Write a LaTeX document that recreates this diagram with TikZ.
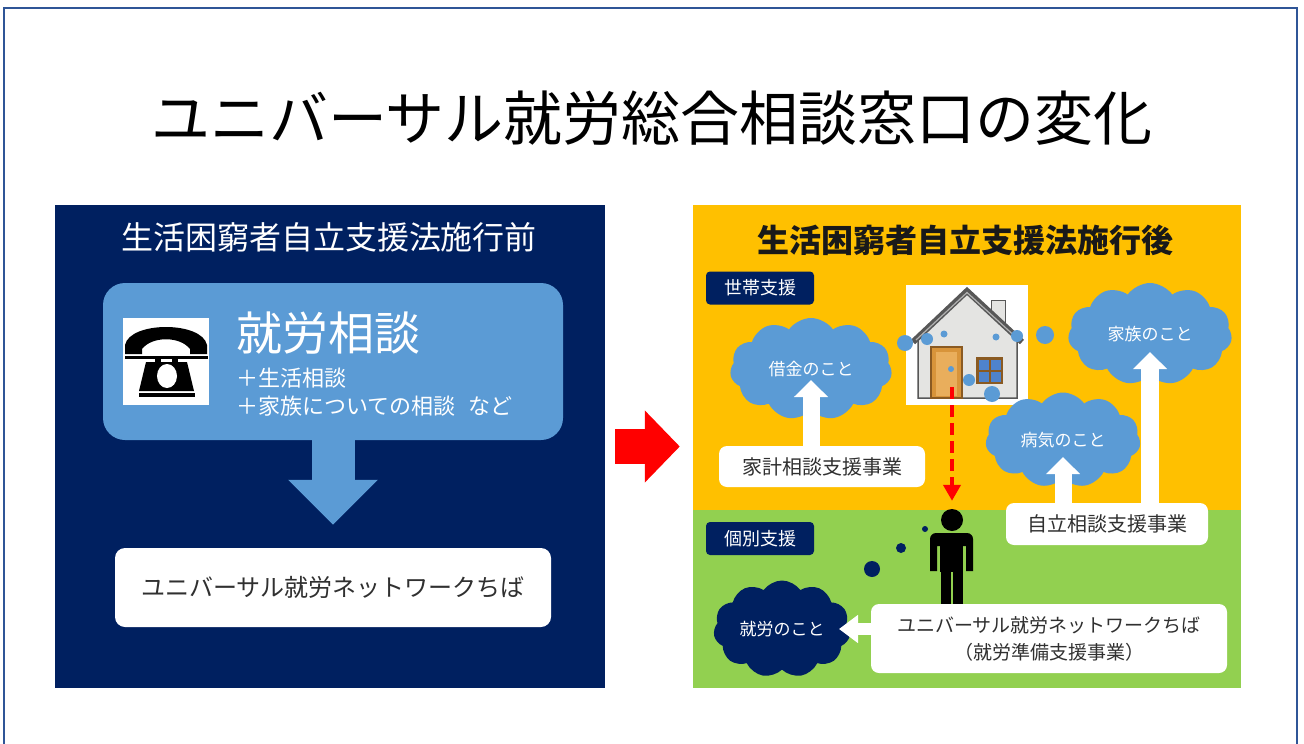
\documentclass[tikz,border=0pt]{standalone}
\usepackage{fontspec}
\setmainfont{Noto Sans CJK JP}
\usetikzlibrary{arrows.meta,shapes.symbols}
\definecolor{navy}{HTML}{002060}
\definecolor{skyblue}{HTML}{5B9BD5}
\definecolor{amber}{HTML}{FFC000}
\definecolor{leaf}{HTML}{92D050}
\definecolor{framec}{HTML}{2F5597}
\definecolor{ink}{HTML}{303030}
\definecolor{wallc}{HTML}{E4E4E2}
\definecolor{roofc}{HTML}{575757}
\definecolor{doorc}{HTML}{D8943A}
\definecolor{doorlight}{HTML}{E9AE5C}
\definecolor{doorline}{HTML}{8A5A22}
\definecolor{panec}{HTML}{4F83CC}
\newcommand{\fsz}[1]{\fontsize{#1}{#1}\selectfont}

\begin{document}
\begin{tikzpicture}[x=1pt, y=-1pt,
    tag/.style={fill=navy, rounded corners=4pt, text=white, minimum width=108pt, minimum height=33pt, font=\fsz{18}},
    whitebox/.style={fill=white, rounded corners=8pt, text=ink, inner sep=0pt},
    puff/.style={cloud, cloud puffs=11, cloud puff arc=110, cloud ignores aspect, fill=skyblue, text=white, inner sep=0pt, font=\fsz{17}},
    blockup/.style={draw=white, line width=17pt, -{Triangle[width=33pt,length=17pt]}}]
    \useasboundingbox (0,0) rectangle (1304,744);
    \fill[white] (0,0) rectangle (1304,744);
    \draw[framec, line width=2pt] (4,744) -- (4,8) -- (1297,8) -- (1297,744);
    \node (title) at (652,118) {\fsz{59}ユニバーサル就労総合相談窓口の変化};

    \node (before) [fill=navy, minimum width=550pt, minimum height=483pt, inner sep=0pt] at (330,446.5) {};
    \node (beforetitle) [text=white] at (329,237) {\fsz{32}生活困窮者自立支援法施行前};
    \node (consult) [fill=skyblue, rounded corners=22pt, minimum width=460pt, minimum height=157pt, inner sep=0pt] at (333,361.5) {};
    \node (phone) [fill=white, minimum width=86pt, minimum height=87pt, inner sep=0pt] at (166,361.5) {};
    \fill (125,354) -- (125,345) .. controls (130,321) and (202,321) .. (207,345) -- (207,354) -- (190,354) -- (190,349) .. controls (180,336) and (152,336) .. (142,349) -- (142,354) -- cycle;
    \fill (125,356) rectangle (208,359);
    \fill (155,358) rectangle (161,364);
    \fill (172,358) rectangle (178,364);
    \fill (146,362) -- (187,362) -- (194,391) -- (139,391) -- cycle;
    \fill[white] (167,376) ellipse[x radius=10pt, y radius=12pt];
    \fill (139,393) rectangle (195,397);
    \node (jobtalk) [text=white, anchor=west, inner sep=0pt] at (236,333) {\fsz{46}就労相談};
    \node (plus1) [text=white, anchor=west, inner sep=0pt] at (236,378) {\fsz{22}＋生活相談};
    \node (plus2) [text=white, anchor=west, inner sep=0pt] at (236,406) {\fsz{22}＋家族についての相談\hspace{0.6em}など};
    \node (net) [whitebox, rounded corners=10pt, minimum width=436pt, minimum height=79pt] at (333,587.5) {\fsz{24}ユニバーサル就労ネットワークちば};
    \draw[skyblue, line width=43pt, -{Triangle[width=87pt,length=45pt]}, shorten >=23pt] (consult.south) -- (net.north);

    \node (after) [fill=amber, minimum width=548pt, minimum height=483pt, inner sep=0pt] at (967,446.5) {};
    \node (indiv) [fill=leaf, minimum width=548pt, minimum height=178pt, inner sep=0pt] at (967,599) {};
    \draw[red, line width=35pt, -{Triangle[width=70pt,length=35pt]}, shorten <=10pt, shorten >=13pt] (before.east) -- (after.west);
    \node (aftertitle) [text=black!90] at (965,240) {\fsz{32}\bfseries 生活困窮者自立支援法施行後};
    \node (household) [tag] at (760,288) {世帯支援};
    \node (individual) [tag] at (760,538.5) {個別支援};

    \node (house) [fill=white, minimum width=122pt, minimum height=120pt, inner sep=0pt] at (967,345) {};
    \filldraw[fill=wallc, draw=roofc, line width=1pt] (991,326) rectangle (1005,300);
    \filldraw[fill=wallc, draw=roofc, line width=1.5pt] (918,398) -- (918,336) -- (967,292) -- (1017,336) -- (1017,398) -- cycle;
    \draw[roofc, line width=6pt] (913,342) -- (967,291) -- (1022,342);
    \draw[gray!60, line width=1.2pt] (916,340) -- (967,292.5) -- (1019,340);
    \filldraw[fill=doorc, draw=doorline, line width=2pt] (931,347) rectangle (962,398);
    \fill[doorlight] (936,352) rectangle (957,396);
    \fill[doorline] (976,357) rectangle (1003,384);
    \foreach \px/\py in {979/360, 990.5/360, 979/371.5, 990.5/371.5}
        \fill[panec] (\px,\py) rectangle ++(10,10);

    \node (debt) [puff, minimum width=162pt, minimum height=102pt] at (811,369) {借金のこと};
    \node (illness) [puff, minimum width=155pt, minimum height=95pt] at (1063,440) {病気のこと};
    \node (family) [puff, minimum width=164pt, minimum height=102pt] at (1150,334) {家族のこと};
    \node (work) [puff, fill=navy, minimum width=137pt, minimum height=97pt] at (782,629) {就労のこと};
    \foreach \bx/\by/\br in {905/343/8, 927/339/6, 944/334/3.5, 996/337/3.5, 1017/336/6, 1045/335/9, 951/369/3, 969/380/6, 992/394/8}
        \fill[skyblue] (\bx,\by) circle[radius=\br pt];

    \node (kakei) [whitebox, minimum width=206pt, minimum height=41pt] at (822,466.5) {\fsz{20}家計相談支援事業};
    \node (selfsup) [whitebox, minimum width=202pt, minimum height=42pt] at (1107,524) {\fsz{20}自立相談支援事業};
    \draw[blockup, shorten >=11pt] (debt |- kakei.north) -- (debt.center);
    \draw[blockup, shorten >=17pt] (illness |- selfsup.north) -- (illness.center);
    \draw[blockup, line width=18pt, shorten >=18pt] (family |- selfsup.north) -- (family.center);

    \node (head) [circle, fill=black, minimum size=22pt, inner sep=0pt] at (952,520) {};
    \fill (930,571) [rounded corners=6pt] -- (930,533) -- (973,533) [sharp corners] -- (973,571) -- (966,571) -- (966,546) -- (937,546) -- (937,571) -- cycle;
    \fill (940,540) rectangle (963,572);
    \fill (941,570) rectangle (951,610);
    \fill (953,570) rectangle (963,610);
    \foreach \bx/\by/\br in {925/529/3, 901/548/5, 872/569/8}
        \fill[navy] (\bx,\by) circle[radius=\br pt];
    \draw[red, line width=4pt, dash pattern=on 12pt off 6pt, -{Triangle[width=17pt,length=16pt]}, shorten <=-18pt, shorten >=8pt] (head |- house.south) -- (head.north);

    \node (net2) [whitebox, minimum width=356pt, minimum height=69pt, align=center, font=\fontsize{19}{27}\selectfont] at (1049,638.5) {ユニバーサル就労ネットワークちば\\（就労準備支援事業）};
    \draw[white, line width=12pt, -{Triangle[width=27pt,length=19pt]}, shorten >=57pt] (net2.west |- work) -- (work.center);
\end{tikzpicture}
\end{document}
